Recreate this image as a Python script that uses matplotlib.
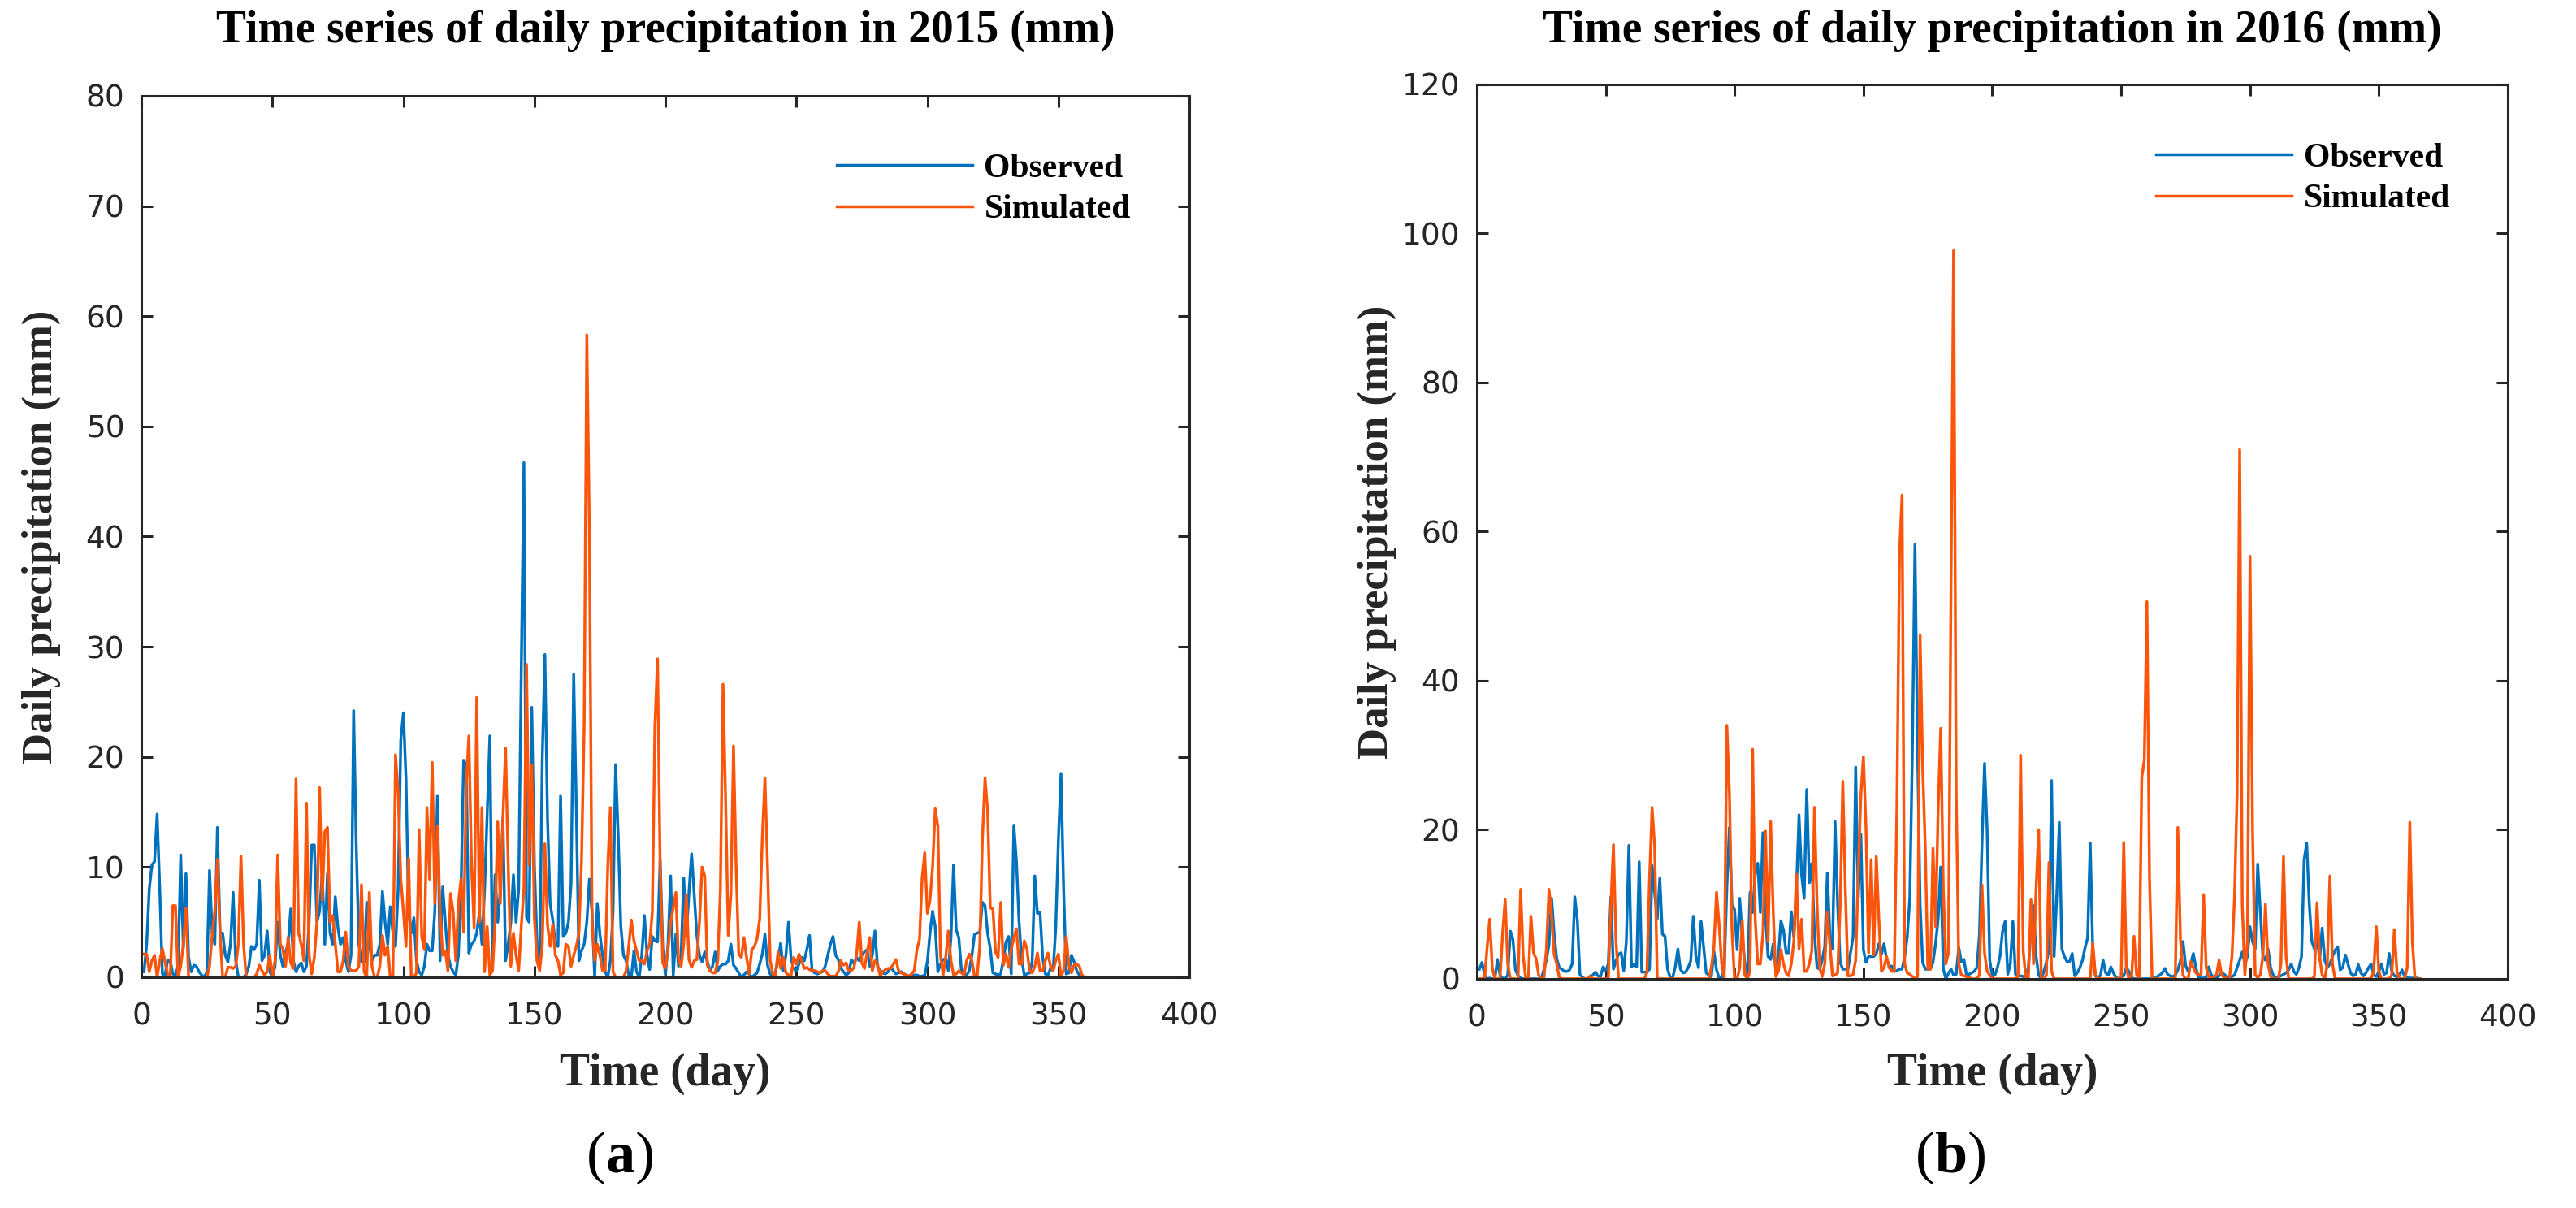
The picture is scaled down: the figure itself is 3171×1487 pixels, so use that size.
import numpy as np
import matplotlib.pyplot as plt

plt.rcParams['mathtext.fontset'] = 'custom'
plt.rcParams['mathtext.rm'] = 'Liberation Serif'
plt.rcParams['mathtext.bf'] = 'Liberation Serif:bold'

# daily precipitation (mm)
obs_2015 = [
    0.5, 3, 8, 10.2, 10.5, 14.8, 8, 0.3, 0.2, 1.5,
    1.5, 0.3, 0.2, 1, 11.1, 2.6, 9.4, 1.8, 0.5, 1.1,
    1, 0.5, 0.2, 0, 0.5, 9.7, 4, 3, 13.6, 4,
    4, 2, 1.4, 3, 7.7, 1.5, 0, 0, 0, 0.3,
    1, 2.8, 2.5, 3, 8.8, 1.5, 2, 4.2, 0.5, 0,
    1, 5, 2, 1, 2.3, 3, 6.2, 1.5, 0.5, 1,
    1.3, 0.5, 1, 5, 12, 12, 5, 6, 9.3, 3,
    9.4, 4, 3, 7.3, 4.5, 3, 3.6, 1.5, 0.5, 2,
    24.2, 12, 3, 1.4, 1.4, 6.8, 3, 1.5, 2, 2,
    3, 7.8, 5, 3, 6.4, 4, 2.8, 8, 21.5, 24,
    18, 5.9, 4, 5.4, 1.5, 0.5, 0.2, 1, 3, 2.4,
    2.4, 6, 16.5, 1.5, 8.2, 5, 2, 1, 0.5, 0.2,
    2, 8, 19.7, 19.3, 2.2, 3, 3.3, 4, 5.9, 3,
    8, 15, 21.9, 1, 9.3, 5, 8, 14.5, 1.5, 3,
    5, 9.3, 5, 8, 28, 46.7, 5.4, 5, 24.5, 10.2,
    3, 1, 19.7, 29.3, 14.5, 6.7, 5.2, 3, 2.8, 16.5,
    3.7, 4, 5, 8.5, 27.5, 15.4, 1.5, 2.4, 3, 5,
    8.9, 5.9, 0, 6.7, 3.9, 2, 0.5, 0, 1.5, 5.9,
    19.3, 12.8, 4.6, 2, 1.5, 0.2, 0, 2.4, 0.5, 0,
    2, 5.6, 2, 0.7, 3.7, 3.3, 3.2, 10.7, 2.6, 0.2,
    3, 9.2, 0.2, 3.9, 1, 2, 9, 3.8, 7.7, 11.2,
    7.5, 3.8, 2, 1.4, 2.3, 1.4, 0.6, 1, 2.3, 0.6,
    1, 1.2, 1.2, 1.5, 3, 1.1, 0.8, 0.4, 0, 0.2,
    0.5, 0.3, 0, 0.2, 0.4, 1.2, 2.1, 3.9, 1.1, 0.3,
    0.1, 0.5, 1.5, 3.1, 0.6, 2, 5, 1.6, 0.8, 0.6,
    1.2, 1.8, 1.5, 2.5, 3.8, 0.6, 0.4, 0.3, 0.4, 0.5,
    1, 2, 3, 3.7, 2, 1.6, 0.8, 0.5, 0.2, 0.4,
    1.6, 1.2, 1.8, 1.5, 2, 2.3, 2.5, 1, 2, 4.2,
    0.9, 0.6, 0.4, 0.3, 0.5, 0.9, 0.6, 0.3, 0.4, 0.5,
    0.3, 0.2, 0.1, 0.1, 0.2, 0.2, 0.1, 0.1, 0.2, 1.4,
    4, 6, 4.6, 0.5, 1.2, 1.6, 1.7, 0.6, 3.6, 10.2,
    4.3, 3.6, 0.6, 0.3, 0.2, 0.6, 2, 3.9, 4, 4.1,
    6.8, 6.5, 4, 2.6, 0.4, 0.3, 0.2, 0.3, 1.6, 3.2,
    3.7, 0.3, 13.8, 10.5, 5, 1.6, 0.2, 0.3, 0.4, 1.4,
    9.2, 5.8, 5.9, 1.8, 0.3, 0.2, 0.8, 0.6, 4.5, 12.4,
    18.5, 8, 0.3, 0.4, 2, 1.4, 0.6, 0.2, 0, 0,
]
sim_2015 = [
    2.1, 2.1, 0.5, 1.5, 2, 0, 1.5, 2.6, 1.4, 0.3,
    0, 6.5, 6.5, 0, 1, 3, 6.3, 0, 0, 0,
    0, 0, 0, 0, 0, 1, 3.8, 6, 10.7, 4,
    0, 0, 0.9, 0.9, 0.8, 1, 3, 11, 3, 0,
    0, 0, 0, 0.3, 1.1, 0.6, 0.2, 0.5, 2, 0,
    1.5, 11.1, 3, 2.6, 1, 3.6, 1.3, 0.8, 18, 4,
    3, 1.5, 15.8, 2, 0.3, 1.8, 5, 17.2, 7, 13.2,
    13.6, 5, 5.6, 3, 0.5, 0.5, 1.5, 4.1, 1, 0.6,
    0.6, 0.6, 1, 8.4, 0.5, 0, 7.7, 1, 0, 0,
    1, 3.8, 2, 2.8, 0, 0.2, 20.2, 16.7, 8.9, 6,
    2.8, 10.8, 0, 0, 0.4, 13.4, 3.7, 2.5, 15.4, 8.9,
    19.5, 6.7, 13.7, 5.9, 2, 2.4, 0.6, 7.6, 5.9, 1.5,
    6.7, 8.9, 4.1, 17.6, 21.9, 10.2, 4.5, 25.4, 5, 15.4,
    0.5, 4.6, 0.2, 0.6, 5, 14.1, 6.7, 14.5, 20.8, 10.2,
    1, 4, 2, 0.6, 4.6, 8, 28.4, 10.2, 19.3, 5.4,
    1.5, 0.6, 2.8, 12.1, 4.8, 2.8, 4.8, 2, 1.5, 0.2,
    0.4, 3, 2.8, 1, 2, 2.8, 4, 10.6, 22.8, 58.3,
    40.6, 5, 1.5, 3, 2, 0.6, 0.6, 10, 15.4, 0.5,
    0, 0, 0, 0, 0.6, 2.8, 5.2, 3.3, 2.4, 1.5,
    1.5, 1.2, 2.4, 3, 5.9, 22.8, 28.9, 10, 1.3, 0.8,
    2.5, 5, 6.3, 7.7, 1.6, 1, 3, 7.5, 1.6, 0.9,
    1.5, 1.6, 5, 10, 9.2, 1.1, 0.6, 0.4, 0.4, 1.5,
    8, 26.6, 15.9, 3.8, 7.5, 21, 10, 2.1, 1.8, 3.6,
    1.8, 0.3, 2.5, 2.8, 3.5, 5.3, 12.7, 18.1, 10, 1.5,
    0.3, 0.2, 2.3, 0.8, 1.8, 0.4, 0.2, 0.2, 1.8, 1.2,
    2.1, 1.5, 0.8, 0.9, 0.7, 0.6, 0.6, 0.5, 0.4, 0.6,
    0.6, 0.3, 0.1, 0.1, 0.1, 0.5, 1.5, 1.1, 1.3, 0.6,
    0.6, 0.9, 2.1, 5, 1.3, 0.8, 2.2, 3.6, 0.6, 1.5,
    1.2, 0.1, 0.5, 0.7, 0.8, 0.8, 1.2, 1.6, 0.6, 0.4,
    0.3, 0.2, 0.1, 0.3, 0.6, 2.5, 3.4, 9, 11.3, 5.8,
    7, 10, 15.3, 13.7, 2, 0.2, 1.8, 4.2, 1.5, 0.2,
    0.3, 0.6, 0.4, 0.2, 1.5, 2.1, 1.5, 0.1, 0.1, 2.8,
    12.4, 18.1, 15.1, 6.3, 6.2, 2.3, 1.8, 6.8, 1.1, 2.1,
    0.9, 2.5, 3.6, 4.4, 1.2, 1.2, 3.3, 2.6, 0.6, 0.4,
    1, 2.2, 0.6, 0.6, 1.5, 2.2, 1, 0.6, 1.5, 2.1,
    0.1, 0.6, 3.7, 1.1, 0.4, 1.1, 1.2, 1, 0.2, 0,
]
obs_2016 = [
    1.3, 2.2, 0.5, 0, 0.1, 0, 0, 2.6, 0.5, 0.1,
    0, 0.5, 6.4, 5.3, 1.2, 0.4, 0.1, 0, 0, 0,
    0, 0, 0, 0, 0, 1.2, 2.5, 4.6, 10.8, 6,
    2.7, 1.5, 1.3, 1, 1, 1.2, 2, 11, 7.9, 0.6,
    0.2, 0, 0, 0.3, 0.5, 0.9, 0.4, 0.3, 1.6, 1.1,
    2, 11, 1.3, 2.4, 3.3, 3.5, 1.1, 5, 17.9, 1.6,
    2, 1.6, 15.7, 0.9, 0.9, 0.9, 1.3, 15.2, 11.5, 8,
    13.5, 6, 5.7, 1.3, 0.2, 0.2, 1.6, 4, 1.3, 0.8,
    0.9, 1.5, 2.4, 8.4, 3, 1.5, 7.7, 4.3, 0.8, 0.5,
    0.3, 3.7, 1.2, 0.1, 0.2, 1.2, 12.3, 20.3, 9.9, 9.3,
    3.9, 10.8, 5.6, 2, 0.4, 11.6, 8.9, 14, 15.5, 8.9,
    19.6, 8.2, 3, 2.6, 4.7, 1.3, 3, 7.8, 6.5, 3.5,
    3.5, 9, 5.6, 12, 22, 14, 10.8, 25.4, 12.9, 15.5,
    6, 1.5, 1.3, 2.5, 4.3, 14.2, 5.6, 4, 21.1, 9.9,
    2.2, 1.3, 1.3, 1.3, 3.5, 5.6, 28.4, 10.8, 19.4, 3.9,
    2.2, 3, 3, 3, 3.4, 4.7, 3.3, 4.7, 2.6, 1.7,
    1.7, 1, 1.1, 1.3, 1.3, 3, 5.6, 10.8, 30.6, 58.3,
    31, 10, 2.2, 1.3, 1.3, 1.3, 2.2, 4.7, 8, 15,
    1.3, 0, 0.7, 1.3, 0.5, 0.6, 4.2, 2.3, 2.6, 0.5,
    0.6, 0.8, 1, 1.5, 5.7, 18, 28.9, 20, 2.5, 0.4,
    0.5, 1.5, 3, 6.4, 7.7, 0.6, 2, 7.7, 0.6, 0.4,
    0.4, 0.3, 0.5, 1.5, 6.8, 9.8, 3, 0.5, 0, 1,
    2.2, 4, 26.6, 3, 11, 21, 4, 3, 2.3, 2.3,
    3.4, 0.4, 0.8, 1.5, 2.5, 4.2, 5.5, 18.2, 3.7, 0.4,
    0, 0.5, 2.5, 0.8, 0.5, 1.6, 0.8, 0.2, 0, 0.3,
    0.4, 1.5, 1, 0.2, 0, 0, 0, 0, 0, 0,
    0, 0.1, 0.2, 0.3, 0.5, 0.8, 1.4, 0.6, 0.4, 0.3,
    0.5, 1.2, 2.4, 5, 1.8, 1, 2, 3.4, 1.5, 0.2,
    0.1, 0.1, 0.2, 1.6, 0.5, 0.2, 0.2, 0.4, 0.8, 0.6,
    0.3, 0.2, 0.3, 0.5, 1.5, 2.5, 3.6, 2, 3, 7,
    5, 4, 15.4, 9, 3, 2.5, 4, 1.5, 0.5, 0.2,
    0.3, 0.4, 0.6, 0.8, 1.2, 2, 1, 0.6, 1.5, 3,
    16, 18.2, 10, 5, 4, 5.9, 2.5, 6.8, 2.5, 1.5,
    2, 3, 3.8, 4.3, 1.2, 1.5, 3.2, 2, 0.8, 0.4,
    0.6, 1.9, 0.8, 0.4, 0.8, 1.5, 2, 0.5, 0.3, 1,
    2, 0.6, 0.8, 3.4, 1, 0.4, 0.3, 0.5, 1.2, 0.3,
    0.2, 0.1, 0.1, 0.1, 0.1, 0,
]
sim_2016 = [
    0, 0, 0, 4.2, 8, 1.5, 0, 0, 0, 6,
    10.6, 2, 0, 0, 0, 0, 12, 3, 0, 0,
    8.4, 3.5, 2.7, 0.5, 0, 0, 4, 12, 8.5, 3.3,
    2, 0.2, 0, 0, 0, 0, 0, 0, 0, 0,
    0, 0, 0, 0.4, 0, 0, 0, 0, 0, 0,
    0, 9.7, 18, 5, 0, 0, 0, 0, 0, 0,
    0, 0, 0, 0, 0, 0.8, 13.3, 23, 17.7, 0,
    0, 0, 0, 0, 0, 0, 0, 0, 0, 0,
    0, 0, 0, 0, 0, 0, 0, 0, 0, 0,
    1.5, 4.3, 11.6, 7.3, 2, 0.2, 34, 25, 6.5, 0,
    0, 1.5, 7.8, 0.5, 0, 1, 30.8, 8, 2, 2,
    6, 19.8, 5, 21.1, 9, 0.3, 1, 3.9, 2, 0.8,
    0.4, 2, 5, 14, 4, 8, 1, 1, 2, 3.8,
    23, 10, 1.5, 0.3, 2, 9, 4.5, 0.4, 0.5, 0.8,
    10, 26.5, 12, 0.4, 0.4, 0.6, 2.5, 14.2, 24.6, 29.8,
    20.3, 3.5, 16, 3.2, 16.4, 8, 1, 1.5, 3, 1.5,
    1, 1, 23.3, 57, 64.9, 2, 0.8, 0.6, 0.3, 0,
    0.3, 46.1, 28.4, 17.7, 1.3, 1.3, 17.5, 7, 22.8, 33.6,
    12, 2, 3.5, 53.4, 97.7, 25, 2, 0.5, 0.4, 0.3,
    0.2, 0, 0, 0, 0.5, 12.6, 3.5, 1, 0.5, 0,
    0, 0, 0, 0, 0, 0, 0, 0, 0, 0.3,
    30, 3.8, 0.2, 0, 10.6, 2, 12, 20, 0, 0,
    0.5, 15.6, 1, 0, 0, 0, 0, 0, 0, 0,
    0, 0, 0, 0, 0, 0, 0, 0, 4.8, 0.5,
    0, 0, 0, 0, 0, 0, 0, 0, 0, 0,
    18.3, 1.5, 0, 0, 5.7, 0.5, 0, 27, 29.4, 50.6,
    13.6, 0, 0, 0, 0, 0, 0, 0, 0, 0,
    0, 20.3, 5.3, 0.5, 0, 0, 2.3, 1.5, 0.8, 0.5,
    0.6, 11.3, 1.5, 0.3, 0.2, 0.3, 0.5, 2.5, 0.5, 0.2,
    0, 0, 3, 11, 25, 71, 10, 0.5, 5, 56.7,
    20, 0.5, 0.2, 0.5, 3, 10, 2, 0.3, 0, 0,
    0, 2, 16.4, 3, 0, 0, 0, 0, 0, 0,
    0, 0, 0, 0, 0.3, 10.2, 3, 0.5, 0, 2,
    13.8, 2, 0, 0, 0, 0, 0, 0, 0, 0,
    0, 0, 0, 0, 0, 0, 0, 1, 7, 1,
    0, 0, 0, 0, 0.5, 6.6, 1, 0, 0, 0,
    1.5, 21, 5, 0, 0, 0,
]

years = ['2015', '2016']
obs = [obs_2015, obs_2016]
sim = [sim_2015, sim_2016]
ymax = [80, 120]
ystep = [10, 20]

blue = '#0072BD'
orange = '#FA550A'
dark = '#262626'

fig = plt.figure(figsize=(31.71, 14.87), dpi=100)
rects = [[0.0549, 0.191, 0.4068, 0.7297],
         [0.5733, 0.1897, 0.4002, 0.7404]]

for i in range(2):
    ax = fig.add_axes(rects[i])
    o = np.array(obs[i])
    s = np.array(sim[i])
    ax.plot(np.arange(1, len(o) + 1), o, color=blue, lw=2.5, label='Observed')
    ax.plot(np.arange(1, len(s) + 1), s, color=orange, lw=2.5, label='Simulated')
    ax.set_xlim(0, 400)
    ax.set_ylim(0, ymax[i])
    ax.set_xticks(np.arange(0, 401, 50))
    ax.set_yticks(np.arange(0, ymax[i] + 1, ystep[i]))
    for sp in ax.spines.values():
        sp.set_linewidth(2.2)
        sp.set_color(dark)
    ax.tick_params(direction='in', length=10, width=2.2, colors=dark,
                   top=True, right=True, labelsize=27)
    ax.tick_params(axis='x', pad=22)
    ax.tick_params(axis='y', pad=15)
    for t in ax.get_xticklabels() + ax.get_yticklabels():
        t.set_family('DejaVu Sans')

    ax.legend(loc='upper right', bbox_to_anchor=(0.944, 0.935), frameon=False,
              handlelength=4.0, handletextpad=0.35, labelspacing=0.3,
              borderaxespad=0, borderpad=0,
              prop={'family': 'Liberation Serif', 'weight': 'bold', 'size': 30})

    r = rects[i]
    cx = r[0] + r[2] / 2
    fig.text(cx, 0.965, 'Time series of daily precipitation in %s (mm)' % years[i],
             ha='center', va='baseline', family='Liberation Serif',
             weight='bold', size=40)
    fig.text(cx, 0.102, 'Time (day)', ha='center', va='baseline',
             family='Liberation Serif', weight='bold', size=40, color=dark)
    fig.text(r[0] - 123 / 3171, r[1] + r[3] / 2, 'Daily precipitation (mm)',
             rotation=90, ha='center', va='center', family='Liberation Serif',
             weight='bold', size=38, color=dark)

fig.text(0.2406, 0.0296, r'($\mathbf{a}$)', ha='center', va='baseline',
         family='Liberation Serif', size=52)
fig.text(0.757, 0.0296, r'($\mathbf{b}$)', ha='center', va='baseline',
         family='Liberation Serif', size=52)

fig.savefig('out.png', dpi=100)
